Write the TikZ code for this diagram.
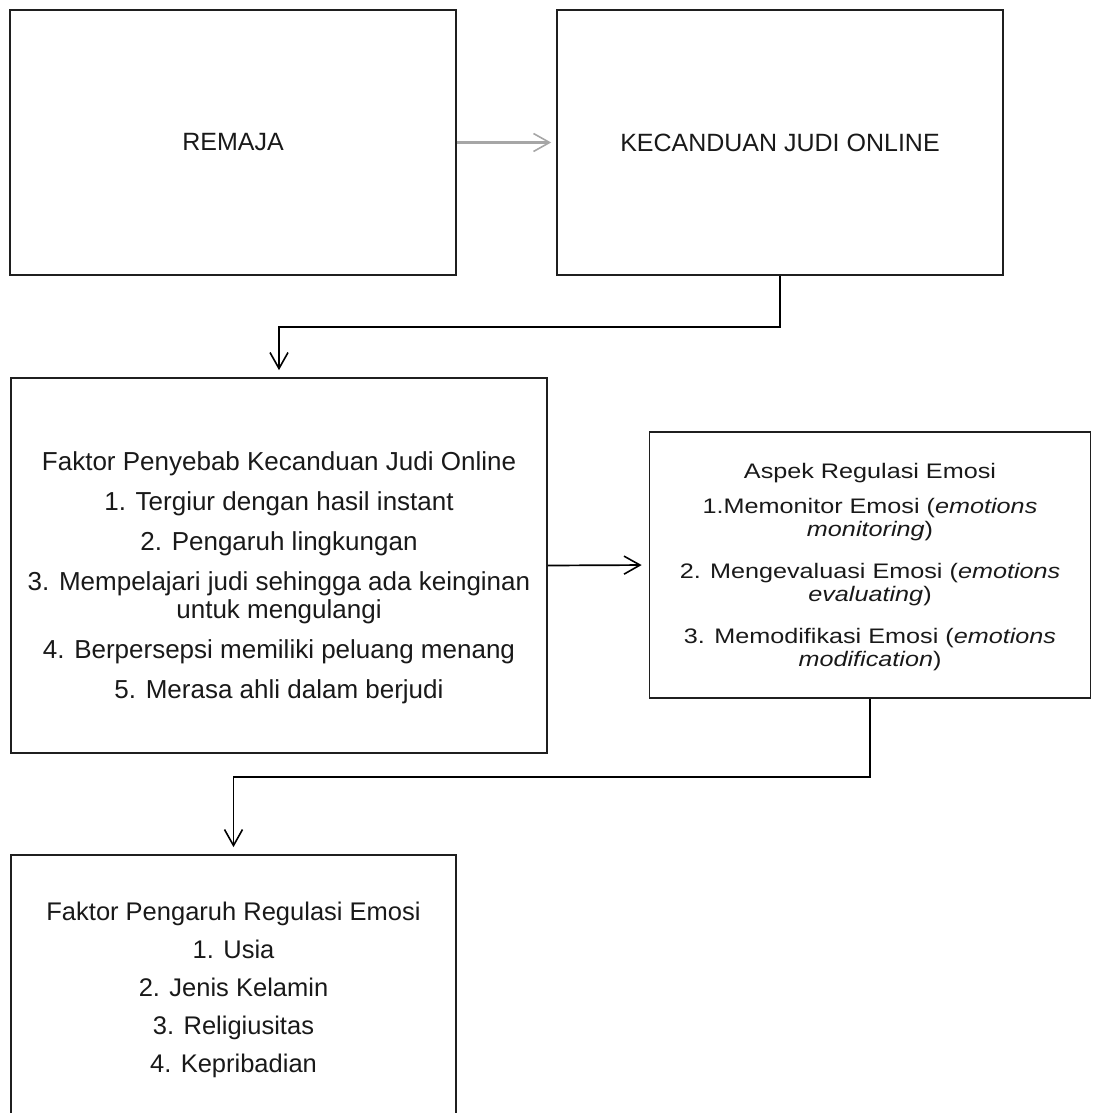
\documentclass[tikz,border=0pt]{standalone}
\usepackage{fontspec}
\setmainfont{Liberation Sans}
\newfontfamily\widefont[FakeStretch=1.2]{Liberation Sans}
\usetikzlibrary{arrows.meta}
\begin{document}
\begin{tikzpicture}[x=1pt,y=-1pt,
  box/.style={draw=black!88, line width=1.7pt, rectangle, inner sep=0pt, text=black!90},
  barb/.style={-{Straight Barb[length=16pt,width=18pt,line width=1.6pt]}},
  conn/.style={draw=black, line width=1.7pt, barb, shorten >=7pt},
  gconn/.style={draw=black!35, line width=2.1pt, barb, shorten >=5pt},
  big/.style={align=center, font=\fontsize{25}{26}\selectfont},
  mid/.style={align=center, font=\fontsize{26}{28}\selectfont},
  aspfont/.style={align=center, font=\widefont\fontsize{21}{23.5}\selectfont}]
\useasboundingbox (0,0) rectangle (1092,1113);
\clip (0,0) rectangle (1092,1113);

\node[box, big, minimum width=446pt, minimum height=265pt] (remaja) at (233,142.5) {REMAJA};
\node[box, big, minimum width=446pt, minimum height=265pt] (kec) at (780,142.5) {KECANDUAN JUDI ONLINE};

\node[box, mid, minimum width=536pt, minimum height=375pt] (faktor) at (279,565.5)
 {\rule{0pt}{43pt}Faktor Penyebab Kecanduan Judi Online\\[12pt]
  1. Tergiur dengan hasil instant\\[12pt]
  2. Pengaruh lingkungan\\[12pt]
  3. Mempelajari judi sehingga ada keinginan\\
  untuk mengulangi\\[12pt]
  4. Berpersepsi memiliki peluang menang\\[12pt]
  5. Merasa ahli dalam berjudi};

\node[box, aspfont, minimum width=441pt, minimum height=266pt] (aspek) at (870,565)
 {\rule{0pt}{20pt}Aspek Regulasi Emosi\\[11pt]
  1.Memonitor Emosi (\textit{emotions}\\
  \textit{monitoring})\\[18pt]
  2. Mengevaluasi Emosi (\textit{emotions}\\
  \textit{evaluating})\\[18pt]
  3. Memodifikasi Emosi (\textit{emotions}\\
  \textit{modification})};

\node[box, minimum width=445pt, minimum height=270pt, align=center,
      font=\fontsize{25.5}{27}\selectfont] (pengaruh) at (233.5,990)
 {Faktor Pengaruh Regulasi Emosi\\[11pt]
  1. Usia\\[11pt]
  2. Jenis Kelamin\\[11pt]
  3. Religiusitas\\[11pt]
  4. Kepribadian};

\coordinate (k1) at (780,327);
\coordinate (a1) at (870,777);

\draw[gconn] (remaja.east) -- (kec.west);
\draw[conn] (kec.south) -- (k1) -| (faktor.north);
\draw[conn] (faktor.east) -- (aspek.west);
\draw[conn] (aspek.south) -- (a1) -| (pengaruh.north);
\end{tikzpicture}
\end{document}
